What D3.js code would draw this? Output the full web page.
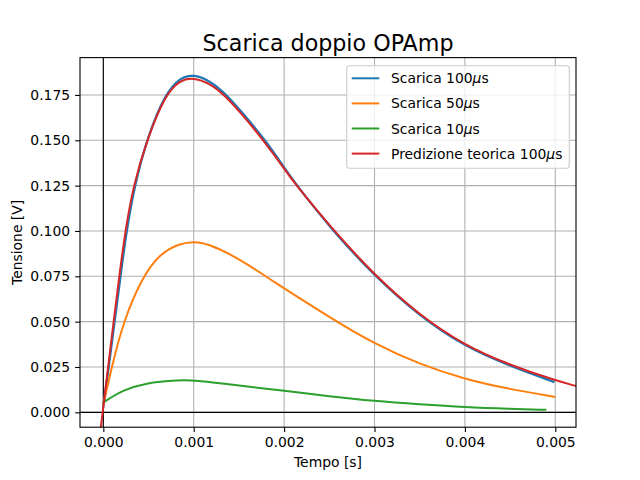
<!DOCTYPE html>
<html>
  <head>
    <meta charset="utf-8">
    <title>Scarica doppio OPAmp</title>
    <script src="https://cdn.jsdelivr.net/npm/d3@7"></script>
    <style>
      html, body {
        margin: 0;
        padding: 0;
        background: #fff; }

      svg text {
        font-family: "DejaVu Sans", sans-serif;
        fill: #000; }

      .grid line {
        stroke: #b0b0b0;
        stroke-width: 1.1px; }

      .curve {
        fill: none;
        stroke-linejoin: round;
        stroke-linecap: square; }
    </style>
  </head>
  <body>

    <div id="vis"></div>

    <script>
      // values (t in s, V in volt)
      var t100 = [0, 0.00006, 0.000125, 0.00019, 0.000256, 0.000345, 0.00049, 0.000683, 0.00085, 0.001,
                  0.001185, 0.001365, 0.00155, 0.0018, 0.002, 0.00214, 0.00254, 0.003, 0.0035, 0.004, 0.0045, 0.00498];
      var v100 = [0.003, 0.025, 0.05, 0.075, 0.1, 0.125, 0.152, 0.1755, 0.1847, 0.1864,
                  0.1826, 0.175, 0.1645, 0.1495, 0.135, 0.125, 0.1, 0.0752, 0.053, 0.0362, 0.0255, 0.0169];

      var t50 = [0, 0.000093, 0.000221, 0.000425, 0.000627, 0.000848, 0.001, 0.00115, 0.0015,
                 0.001955, 0.002, 0.0025, 0.003, 0.0035, 0.004, 0.0045, 0.00499];
      var v50 = [0.004, 0.025, 0.05, 0.074, 0.0877, 0.0932, 0.0941, 0.0932, 0.085,
                 0.0697, 0.0684, 0.0525, 0.0377, 0.0265, 0.0182, 0.0127, 0.0086];

      var t10 = [0, 0.000055, 0.000203, 0.000461, 0.00085, 0.001, 0.0015, 0.002, 0.0025,
                 0.003, 0.0035, 0.004, 0.0045, 0.00489];
      var v10 = [0.0055, 0.0072, 0.0119, 0.0163, 0.0178, 0.0177, 0.0147, 0.0119, 0.0088,
                 0.0062, 0.0044, 0.0028, 0.0019, 0.0014];

      var tTeo = [-0.000031, -0.000007, 0.000053, 0.000114, 0.000176, 0.000243, 0.000332, 0.00048, 0.000683,
                  0.000848, 0.001, 0.001185, 0.001339, 0.00155, 0.00177, 0.002, 0.00212, 0.0025, 0.003,
                  0.0035, 0.004, 0.0045, 0.005, 0.00523];
      var vTeo = [-0.0098, 0, 0.025, 0.05, 0.075, 0.1, 0.125, 0.15, 0.175,
                  0.1833, 0.1846, 0.1812, 0.175, 0.1635, 0.15, 0.1345, 0.126, 0.103, 0.0755,
                  0.0535, 0.0368, 0.026, 0.0176, 0.0145];

      var xTicks = [0, 0.001, 0.002, 0.003, 0.004, 0.005];
      var yTicks = [0, 0.025, 0.05, 0.075, 0.1, 0.125, 0.15, 0.175];

      var labels = ["Scarica 100", "Scarica 50", "Scarica 10", "Predizione teorica 100"];
      var colors = ["#1f77b4", "#ff7f0e", "#2ca02c", "#d62728"];

      (function() {
        var width = 640, height = 480;
        var left = 80, right = 576, top = 57.6, bottom = 427.2;

        var svg = d3.select("#vis").append("svg")
          .attr("width", width)
          .attr("height", height);

        var x = d3.scaleLinear().domain([-0.000258, 0.005229]).range([left, right]);
        var y = d3.scaleLinear().domain([-0.0082, 0.1956]).range([bottom, top]);

        svg.append("clipPath").attr("id", "plot")
          .append("rect")
            .attr("x", left).attr("y", top)
            .attr("width", right - left).attr("height", bottom - top);

        // grid
        var grid = svg.append("g").attr("class", "grid");
        grid.selectAll(".gx").data(xTicks).enter().append("line")
          .attr("x1", d => x(d)).attr("x2", d => x(d))
          .attr("y1", top).attr("y2", bottom);
        grid.selectAll(".gy").data(yTicks).enter().append("line")
          .attr("x1", left).attr("x2", right)
          .attr("y1", d => y(d)).attr("y2", d => y(d));

        // axhline / axvline at zero
        svg.append("line")
          .attr("x1", left).attr("x2", right)
          .attr("y1", y(0)).attr("y2", y(0))
          .attr("stroke", "#000").attr("stroke-width", 1.1);
        svg.append("line")
          .attr("x1", x(0)).attr("x2", x(0))
          .attr("y1", top).attr("y2", bottom)
          .attr("stroke", "#000").attr("stroke-width", 1.1);

        var series = [
          d3.zip(t100, v100),
          d3.zip(t50, v50),
          d3.zip(t10, v10),
          d3.zip(tTeo, vTeo)
        ];

        var line = d3.line()
          .x(d => x(d[0]))
          .y(d => y(d[1]))
          .curve(d3.curveBasis);

        svg.append("g")
          .attr("clip-path", "url(#plot)")
          .selectAll("path")
          .data(series)
          .enter().append("path")
            .attr("class", "curve")
            .attr("stroke", (d, i) => colors[i])
            .attr("stroke-width", (d, i) => i === 0 ? 2.3 : 2)
            .attr("d", line);

        // spines
        svg.append("rect")
          .attr("x", left).attr("y", top)
          .attr("width", right - left).attr("height", bottom - top)
          .attr("fill", "none").attr("stroke", "#000").attr("stroke-width", 1.1);

        // axes
        var xAxis = svg.append("g")
          .attr("transform", "translate(0," + bottom + ")")
          .call(d3.axisBottom(x).tickValues(xTicks).tickFormat(d3.format(".3f"))
            .tickSizeOuter(0).tickSize(4.9).tickPadding(5));
        var yAxis = svg.append("g")
          .attr("transform", "translate(" + left + ",0)")
          .call(d3.axisLeft(y).tickValues(yTicks).tickFormat(d3.format(".3f"))
            .tickSizeOuter(0).tickSize(4.9).tickPadding(5));

        [xAxis, yAxis].forEach(function(a) {
          a.select(".domain").remove();
          a.attr("font-family", null).attr("font-size", null);
          a.selectAll(".tick line").attr("stroke", "#000").attr("stroke-width", 1.1);
          a.selectAll(".tick text").style("font-size", "13.9px");
        });

        // title and axis labels
        svg.append("text")
          .attr("x", (left + right) / 2).attr("y", 51)
          .attr("text-anchor", "middle")
          .style("font-size", "22.2px")
          .text("Scarica doppio OPAmp");

        svg.append("text")
          .attr("x", (left + right) / 2).attr("y", 467)
          .attr("text-anchor", "middle")
          .style("font-size", "13.9px")
          .text("Tempo [s]");

        svg.append("text")
          .attr("transform", "translate(22," + (top + bottom) / 2 + ") rotate(-90)")
          .attr("text-anchor", "middle")
          .style("font-size", "13.9px")
          .text("Tensione [V]");

        // legend
        var legend = svg.append("g").attr("transform", "translate(346.7,65.7)");
        legend.append("rect")
          .attr("width", 222.6).attr("height", 102.6)
          .attr("rx", 2.8)
          .attr("fill", "#fff").attr("fill-opacity", 0.8)
          .attr("stroke", "#cccccc").attr("stroke-width", 1.1);

        var rows = legend.selectAll(".entry").data(labels).enter().append("g")
          .attr("transform", (d, i) => "translate(0," + (12.6 + i * 25.1) + ")");
        rows.append("line")
          .attr("x1", 5).attr("x2", 32.6)
          .attr("stroke", (d, i) => colors[i]).attr("stroke-width", 2);
        var txt = rows.append("text")
          .attr("x", 44.3).attr("dy", "0.36em")
          .style("font-size", "13.9px");
        txt.append("tspan").text(d => d);
        txt.append("tspan").style("font-style", "italic").text("\u03bc");
        txt.append("tspan").text("s");
      }());
    </script>
  </body>
</html>
